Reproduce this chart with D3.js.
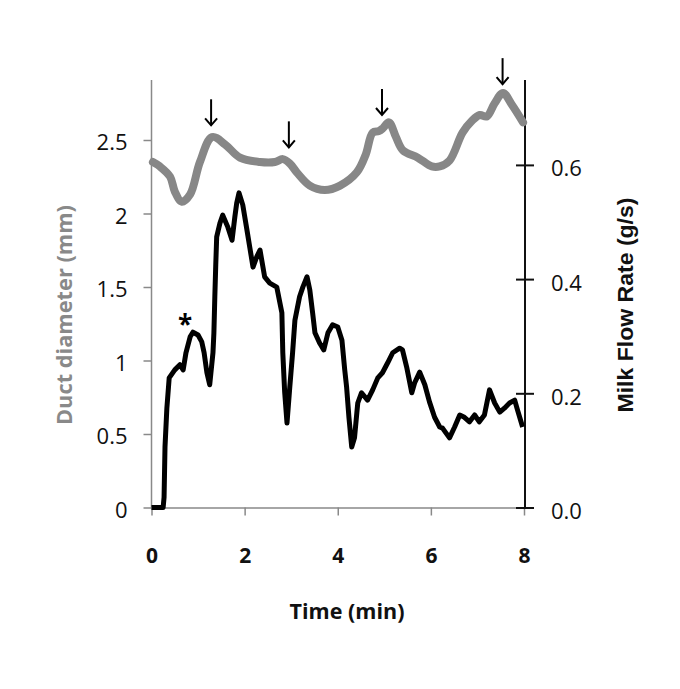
<!DOCTYPE html>
<html>
<head>
<meta charset="utf-8">
<script src="https://cdn.jsdelivr.net/npm/d3@7"></script>
<style>
  html, body { margin: 0; padding: 0; background: #fff; }
  svg { display: block; }
</style>
</head>
<body>
<svg id="chart" width="680" height="689"></svg>
<script>
// ---- Data ----
// Duct diameter (mm), grey smooth curve, left axis
const diamTime = [0.03, 0.18, 0.4, 0.5, 0.65, 0.83, 1.04, 1.30, 1.58, 1.9, 2.33, 2.65, 2.82, 2.97, 3.12, 3.4, 3.72, 4.05, 4.41, 4.6, 4.75, 4.88, 4.97, 5.10, 5.25, 5.4, 5.72, 6.02, 6.19, 6.4, 6.68, 6.88, 7.05, 7.2, 7.37, 7.55, 7.74, 7.98];
const diamValue = [2.35, 2.32, 2.25, 2.15, 2.08, 2.13, 2.35, 2.52, 2.47, 2.38, 2.35, 2.35, 2.37, 2.34, 2.28, 2.19, 2.16, 2.19, 2.28, 2.40, 2.55, 2.56, 2.58, 2.62, 2.52, 2.43, 2.38, 2.32, 2.32, 2.36, 2.55, 2.63, 2.67, 2.66, 2.75, 2.82, 2.74, 2.62];

// Milk flow rate (g/s), black jagged curve, right axis
const flowTime = [0.0, 0.25, 0.27, 0.29, 0.33, 0.38, 0.50, 0.61, 0.68, 0.74, 0.83, 0.89, 1.00, 1.08, 1.13, 1.19, 1.25, 1.32, 1.34, 1.36, 1.38, 1.40, 1.47, 1.53, 1.64, 1.73, 1.79, 1.83, 1.88, 1.96, 2.05, 2.11, 2.18, 2.26, 2.33, 2.43, 2.54, 2.69, 2.80, 2.82, 2.86, 2.91, 2.97, 3.03, 3.08, 3.18, 3.25, 3.34, 3.40, 3.46, 3.51, 3.61, 3.70, 3.79, 3.89, 4.00, 4.09, 4.15, 4.19, 4.24, 4.30, 4.36, 4.41, 4.43, 4.51, 4.64, 4.75, 4.86, 4.96, 5.07, 5.18, 5.33, 5.39, 5.48, 5.59, 5.65, 5.76, 5.87, 5.97, 6.08, 6.19, 6.25, 6.40, 6.51, 6.62, 6.72, 6.83, 6.94, 7.04, 7.15, 7.26, 7.37, 7.48, 7.58, 7.69, 7.80, 7.86, 7.97];
const flowValue = [0.0, 0.0, 0.018, 0.106, 0.174, 0.227, 0.241, 0.250, 0.241, 0.271, 0.299, 0.307, 0.302, 0.290, 0.271, 0.236, 0.215, 0.271, 0.306, 0.369, 0.425, 0.474, 0.498, 0.512, 0.491, 0.468, 0.509, 0.533, 0.551, 0.530, 0.486, 0.456, 0.421, 0.439, 0.451, 0.404, 0.393, 0.386, 0.341, 0.271, 0.202, 0.148, 0.211, 0.271, 0.328, 0.369, 0.386, 0.404, 0.381, 0.341, 0.306, 0.288, 0.276, 0.306, 0.320, 0.316, 0.293, 0.241, 0.211, 0.158, 0.106, 0.122, 0.166, 0.183, 0.201, 0.188, 0.206, 0.227, 0.236, 0.253, 0.271, 0.279, 0.276, 0.246, 0.201, 0.218, 0.237, 0.215, 0.185, 0.158, 0.141, 0.139, 0.122, 0.141, 0.162, 0.158, 0.150, 0.162, 0.150, 0.162, 0.206, 0.183, 0.167, 0.174, 0.183, 0.188, 0.171, 0.141];

// Arrows marking diameter peaks (time, diameter at arrow tip)
const arrowTime = [1.28, 2.95, 4.95, 7.54];
const arrowTip = [2.60, 2.45, 2.67, 2.88];

// Asterisk annotation (time, flow)
const starTime = [0.72];
const starFlow = [0.31];

// Tick values / labels
const xTicks = [0, 2, 4, 6, 8];
const leftTicks = [0, 0.5, 1, 1.5, 2, 2.5];
const leftTickLabels = ["0", "0.5", "1", "1.5", "2", "2.5"];
const rightTicks = [0.0, 0.2, 0.4, 0.6];
const rightTickLabels = ["0.0", "0.2", "0.4", "0.6"];

const xTitle = "Time (min)";
const leftTitle = "Duct diameter (mm)";
const rightTitle = "Milk Flow Rate (g/s)";

// ---- Layout ----
const svg = d3.select("#chart");
const plotLeft = 151.5, plotRight = 524, plotBottom = 507.5, plotTop = 80;
const grey = "#898989";
const lineGrey = "#878787";

const x = d3.scaleLinear().domain([0, 8]).range([plotLeft, plotRight]);
const yL = d3.scaleLinear().domain([0, 2.9]).range([plotBottom, plotBottom - 2.9 * 147]);
const yR = d3.scaleLinear().domain([0, 0.75]).range([plotBottom, plotBottom - 0.75 * 571]);

const tickFont = "'Open Sans', 'DejaVu Sans', sans-serif";

// X axis
const xAxis = d3.axisBottom(x).tickValues(xTicks).tickSize(8).tickSizeOuter(0).tickFormat(d3.format("d"));
const gx = svg.append("g").attr("transform", `translate(0,${plotBottom})`).call(xAxis);
gx.select(".domain").attr("stroke", grey).attr("stroke-width", 1.5);
gx.selectAll(".tick line").attr("stroke", grey).attr("stroke-width", 1.5);
gx.selectAll(".tick text")
  .attr("y", 55).attr("dy", 0)
  .attr("font-family", tickFont).attr("font-size", 21).attr("font-weight", "bold").attr("fill", "#111");

// Left axis
const lAxis = d3.axisLeft(yL).tickValues(leftTicks).tickSize(8).tickSizeOuter(0)
  .tickFormat((d, i) => leftTickLabels[i]);
const gl = svg.append("g").attr("transform", `translate(${plotLeft},0)`).call(lAxis);
gl.select(".domain").remove();
gl.append("line").attr("x1", 0).attr("x2", 0).attr("y1", plotTop).attr("y2", plotBottom)
  .attr("stroke", grey).attr("stroke-width", 1.5);
gl.selectAll(".tick line").attr("stroke", grey).attr("stroke-width", 1.5);
gl.selectAll(".tick text")
  .attr("x", -24).attr("dy", "0.45em")
  .attr("font-family", tickFont).attr("font-size", 22).attr("fill", "#111");

// Right axis
const rAxis = d3.axisRight(yR).tickValues(rightTicks).tickSize(9).tickSizeOuter(0)
  .tickFormat((d, i) => rightTickLabels[i]);
const gr = svg.append("g").attr("transform", `translate(${plotRight + 1},0)`).call(rAxis);
gr.select(".domain").remove();
gr.append("line").attr("x1", 0).attr("x2", 0).attr("y1", plotTop).attr("y2", plotBottom)
  .attr("stroke", "#111").attr("stroke-width", 2);
gr.selectAll(".tick line").attr("x1", -9).attr("stroke", "#111").attr("stroke-width", 2);
gr.selectAll(".tick text")
  .attr("x", 26).attr("dy", "0.5em")
  .attr("font-family", tickFont).attr("font-size", 22).attr("fill", "#111");

// Diameter line (grey, smooth)
const diamData = diamTime.map((t, i) => [t, diamValue[i]]);
svg.append("path")
  .datum(diamData)
  .attr("fill", "none")
  .attr("stroke", lineGrey)
  .attr("stroke-width", 8)
  .attr("stroke-linecap", "round")
  .attr("stroke-linejoin", "round")
  .attr("d", d3.line().x(d => x(d[0])).y(d => yL(d[1])).curve(d3.curveCatmullRom.alpha(0.5)));

// Flow line (black)
const flowData = flowTime.map((t, i) => [t, flowValue[i]]);
svg.append("path")
  .datum(flowData)
  .attr("fill", "none")
  .attr("stroke", "#000")
  .attr("stroke-width", 5)
  .attr("stroke-linejoin", "round")
  .attr("d", d3.line().x(d => x(d[0])).y(d => yR(d[1])).curve(d3.curveLinear));

// Arrows
const arrows = svg.append("g").attr("stroke", "#000").attr("stroke-width", 2).attr("fill", "none");
arrowTime.forEach((t, i) => {
  const ax = x(t), ay = yL(arrowTip[i]);
  arrows.append("line").attr("x1", ax).attr("x2", ax).attr("y1", ay - 26).attr("y2", ay);
  arrows.append("path").attr("d", `M${ax - 6},${ay - 7} L${ax},${ay} L${ax + 6},${ay - 7}`);
});

// Asterisk
svg.append("text")
  .attr("x", x(starTime[0])).attr("y", yR(starFlow[0]) + 4)
  .attr("text-anchor", "middle")
  .attr("font-family", tickFont).attr("font-size", 26).attr("font-weight", "bold").attr("fill", "#000")
  .text("*");

// Titles
svg.append("text")
  .attr("x", 347).attr("y", 619)
  .attr("text-anchor", "middle")
  .attr("font-family", tickFont).attr("font-size", 21).attr("font-weight", "bold").attr("fill", "#111")
  .attr("textLength", 115).attr("lengthAdjust", "spacingAndGlyphs")
  .text(xTitle);

svg.append("text")
  .attr("transform", "translate(72,315) rotate(-90)")
  .attr("text-anchor", "middle")
  .attr("font-family", tickFont).attr("font-size", 21).attr("font-weight", "bold").attr("fill", grey)
  .attr("textLength", 220).attr("lengthAdjust", "spacingAndGlyphs")
  .text(leftTitle);

svg.append("text")
  .attr("transform", "translate(633,305) rotate(-90)")
  .attr("text-anchor", "middle")
  .attr("font-family", "'Liberation Sans', Arial, sans-serif").attr("font-size", 22).attr("font-weight", "bold").attr("fill", "#111")
  .attr("textLength", 215).attr("lengthAdjust", "spacingAndGlyphs")
  .text(rightTitle);
</script>
</body>
</html>
